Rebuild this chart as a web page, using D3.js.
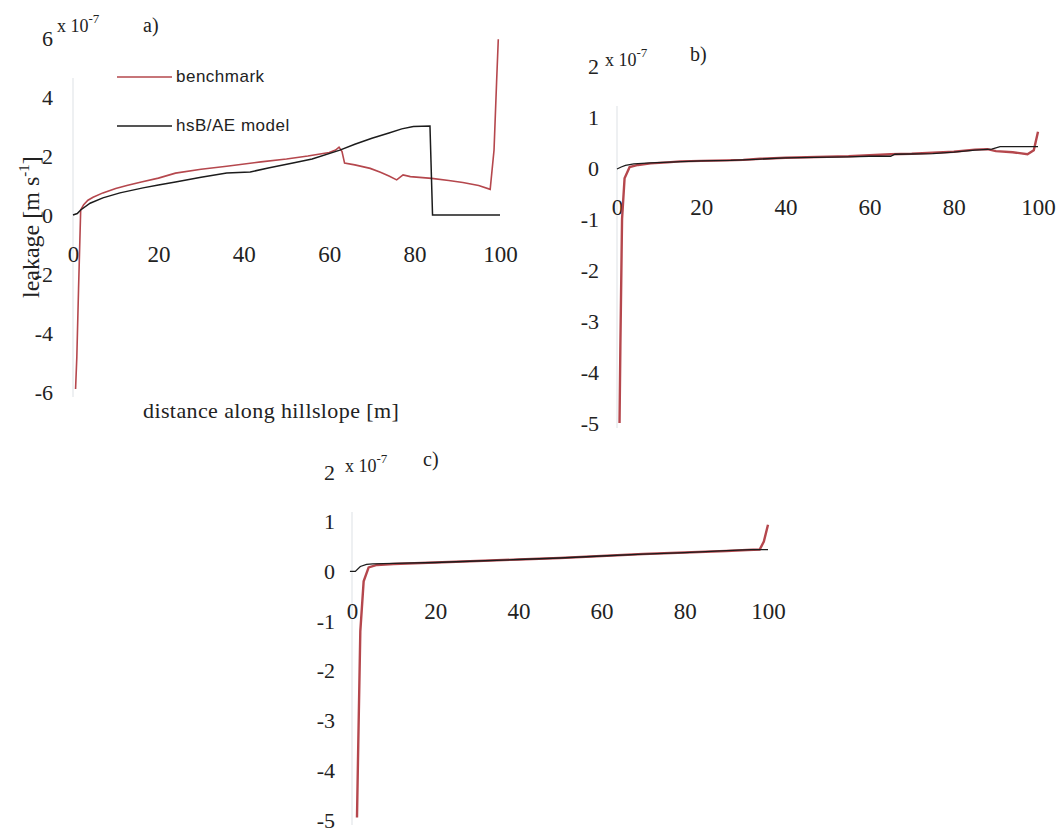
<!DOCTYPE html>
<html>
<head>
<meta charset="utf-8">
<script src="https://cdn.jsdelivr.net/npm/d3@7"></script>
<style>
    body { margin: 0; background: #fff; }
    svg text { font-family: "Liberation Serif", "Times New Roman", serif; fill: #222; }
    .tick line { display: none; }
</style>
</head>
<body>
<svg id="chart" width="1063" height="835"></svg>
<script>
// values in units of 10^-7 m/s, distance in m
var xTicks = [0, 20, 40, 60, 80, 100];
var yTicksA = [6, 4, 2, 0, -2, -4, -6];
var yTicksBC = [2, 1, 0, -1, -2, -3, -4, -5];
var seriesNames = ["benchmark", "hsB/AE model"];

// panel a)
var benchAx = [0.6, 0.9, 1.3, 1.8, 2.5, 3.5, 4.7, 7, 10, 12.6, 16, 20, 24, 30, 36, 44, 50, 55, 60, 61.5, 62.3, 63, 63.6, 66, 69.6, 72, 74, 75.8, 77.3, 79, 84, 88, 91.3, 95, 97.7, 98.6, 99.2, 99.6];
var benchAy = [-5.9, -4.8, -2.5, 0.17, 0.35, 0.5, 0.6, 0.75, 0.9, 1.0, 1.12, 1.25, 1.42, 1.55, 1.65, 1.8, 1.9, 2.0, 2.12, 2.2, 2.3, 2.15, 1.76, 1.7, 1.58, 1.45, 1.32, 1.19, 1.36, 1.3, 1.24, 1.17, 1.1, 1.0, 0.87, 2.2, 4.5, 5.96];
var modelAx = [0, 1, 1.8, 4, 7, 11, 16.4, 20, 24, 30, 36, 41.5, 46, 51.5, 56, 62.5, 66, 70, 74, 77, 79.7, 83.6, 84.2, 100];
var modelAy = [0, 0.05, 0.17, 0.4, 0.58, 0.75, 0.92, 1.02, 1.12, 1.28, 1.42, 1.46, 1.6, 1.76, 1.9, 2.2, 2.4, 2.6, 2.78, 2.92, 3.0, 3.02, 0, 0];

// panel b)
var benchBx = [0.6, 0.8, 1.2, 1.8, 3, 5, 8, 12, 15, 20, 26, 30, 34, 40, 45, 50, 55, 60, 65, 70, 75, 80, 85, 88, 90, 94, 97.5, 99, 100];
var benchBy = [-5.0, -3.5, -1.0, -0.2, 0.02, 0.06, 0.09, 0.11, 0.13, 0.14, 0.15, 0.16, 0.18, 0.2, 0.21, 0.22, 0.23, 0.25, 0.27, 0.28, 0.3, 0.32, 0.36, 0.37, 0.33, 0.31, 0.27, 0.35, 0.71];
var modelBx = [0, 1, 2, 4, 8, 14, 20, 27, 33, 40, 47, 55, 60, 65, 66, 75, 80, 85, 89, 91, 95, 99, 100];
var modelBy = [-0.02, 0.02, 0.05, 0.08, 0.1, 0.12, 0.14, 0.15, 0.17, 0.2, 0.21, 0.22, 0.23, 0.23, 0.27, 0.28, 0.31, 0.35, 0.37, 0.42, 0.42, 0.42, 0.42];

// panel c)
var benchCx = [1.2, 1.5, 2, 2.8, 4, 6, 10, 20, 30, 40, 50, 60, 65, 70, 80, 90, 95, 98, 99, 100];
var benchCy = [-4.95, -3.5, -1.2, -0.2, 0.08, 0.13, 0.15, 0.18, 0.21, 0.24, 0.27, 0.31, 0.33, 0.35, 0.38, 0.41, 0.43, 0.44, 0.6, 0.94];
var modelCx = [-0.5, 0.8, 2, 3.5, 5, 10, 20, 30, 40, 50, 60, 70, 80, 90, 96, 100];
var modelCy = [0, 0, 0.1, 0.14, 0.15, 0.16, 0.18, 0.21, 0.24, 0.27, 0.31, 0.35, 0.38, 0.42, 0.44, 0.44];

var red = "#b5474d", black = "#1c1c1c";
var svg = d3.select("#chart");

// plain hyphen for negatives, like the original figure
var fmt = function (d) { return String(d); };

var panels = [
    {tag: "a)", xr: [73, 500], yd: [-6, 6], yr: [392, 38], ticks: yTicksA, pad: 20,
     bench: [benchAx, benchAy], model: [modelAx, modelAy], exp: [57, 32], tagPos: [143, 32]},
    {tag: "b)", xr: [617, 1038], yd: [-5, 2], yr: [423, 66], ticks: yTicksBC, pad: 18,
     bench: [benchBx, benchBy], model: [modelBx, modelBy], exp: [605, 66], tagPos: [690, 61]},
    {tag: "c)", xr: [352, 768], yd: [-5, 2], yr: [820, 472], ticks: yTicksBC, pad: 17,
     bench: [benchCx, benchCy], model: [modelCx, modelCy], exp: [345, 472], tagPos: [423, 466]}
];

panels.forEach(function (p, i) {
    var x = d3.scaleLinear().domain([0, 100]).range(p.xr);
    var y = d3.scaleLinear().domain(p.yd).range(p.yr);
    var g = svg.append("g");

    // faint scanned axis line
    g.append("line")
        .attr("x1", x(0)).attr("x2", x(0))
        .attr("y1", y(p.yd[1]) + 40).attr("y2", y(p.yd[0]) + 5)
        .attr("stroke", "#eef0f2").attr("stroke-width", 2);

    var yAxis = g.append("g")
        .attr("transform", "translate(" + x(0) + ",0)")
        .call(d3.axisLeft(y).tickValues(p.ticks).tickSize(0).tickPadding(p.pad).tickFormat(fmt));
    yAxis.select(".domain").remove();
    yAxis.selectAll("text").style("font-size", "22px").style("font-family", null);

    var xAxis = g.append("g")
        .attr("transform", "translate(0," + y(0) + ")")
        .call(d3.axisBottom(x).tickValues(xTicks).tickSize(0).tickPadding(31).tickFormat(fmt));
    xAxis.select(".domain").remove();
    xAxis.selectAll("text").style("font-size", "23px").style("font-family", null);

    // multiplier and panel tag
    var t = g.append("text").attr("x", p.exp[0]).attr("y", p.exp[1]).style("font-size", "18px");
    t.append("tspan").text("x 10");
    t.append("tspan").attr("dy", -9).style("font-size", "13px").text("-7");
    g.append("text").attr("x", p.tagPos[0]).attr("y", p.tagPos[1])
        .style("font-size", "20px").text(p.tag);

    var line = d3.line()
        .x(function (d) { return x(d[0]); })
        .y(function (d) { return y(d[1]); });

    g.append("path")
        .datum(d3.zip(p.bench[0], p.bench[1]))
        .attr("fill", "none").attr("stroke", red)
        .attr("stroke-width", i === 0 ? 1.6 : 2.4)
        .attr("d", line);
    g.append("path")
        .datum(d3.zip(p.model[0], p.model[1]))
        .attr("fill", "none").attr("stroke", black)
        .attr("stroke-width", i === 0 ? 1.5 : 1.3)
        .attr("d", line);
});

// legend (panel a)
var legend = svg.append("g");
[[77, red], [126, black]].forEach(function (l, i) {
    legend.append("line")
        .attr("x1", 117).attr("x2", 172).attr("y1", l[0]).attr("y2", l[0])
        .attr("stroke", l[1]).attr("stroke-width", 1.6);
    legend.append("text")
        .attr("x", 176).attr("y", l[0] + 5)
        .style("font-family", "'Liberation Sans', Arial, sans-serif")
        .style("font-size", "17px")
        .style("letter-spacing", "0.5px")
        .text(seriesNames[i]);
});

// axis titles
var yt = svg.append("text")
    .attr("transform", "translate(39,298) rotate(-90)")
    .style("font-size", "24px");
yt.append("tspan").text("leakage [m s");
yt.append("tspan").attr("dy", -10).style("font-size", "15px").text("-1");
yt.append("tspan").attr("dy", 10).text("]");

svg.append("text")
    .attr("x", 143).attr("y", 418)
    .style("font-size", "22px")
    .style("letter-spacing", "0.4px")
    .text("distance along hillslope [m]");
</script>
</body>
</html>
